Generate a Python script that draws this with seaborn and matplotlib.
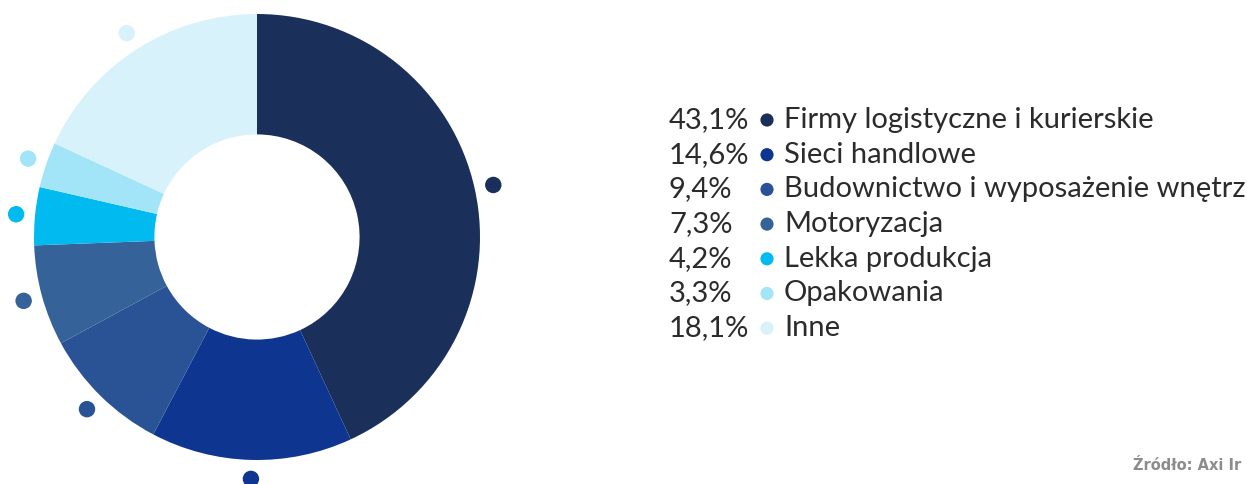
import numpy as np
import pandas as pd
import matplotlib
matplotlib.use("Agg")
import matplotlib.pyplot as plt
import seaborn as sns

categories = ["Firmy logistyczne i kurierskie", "Sieci handlowe",
              "Budownictwo i wyposażenie wnętrz", "Motoryzacja",
              "Lekka produkcja", "Opakowania", "Inne"]
shares = [43.1, 14.6, 9.4, 7.3, 4.2, 3.3, 18.1]
share_labels = ["43,1%", "14,6%", "9,4%", "7,3%", "4,2%", "3,3%", "18,1%"]
colors = ["#1b2f5b", "#0e3590", "#2a5395", "#356298", "#00baf0", "#a3e5f8", "#d8f2fb"]
source = "Źródło: Axi Ir"

sns.set_theme(style="white")
plt.rcParams['font.family'] = ['Lato', 'DejaVu Sans']

W, H = 1247, 484
fig = plt.figure(figsize=(W / 100, H / 100), dpi=100)
fig.patch.set_facecolor("white")

# donut
cx, cy, R = 257, 237, 223
L = 1.16
S = 2 * L * R
ax = fig.add_axes([(cx - S / 2) / W, (H - cy - S / 2) / H, S / W, S / H])
ax.pie(shares, colors=colors, startangle=90, counterclock=False, radius=1,
       wedgeprops=dict(width=0.54, linewidth=0))

cum = np.cumsum([0] + shares[:-1])
mid = 90 - (cum + np.array(shares) / 2) * 3.6
rd = 1.085
dots = pd.DataFrame({"x": rd * np.cos(np.radians(mid)),
                     "y": rd * np.sin(np.radians(mid)),
                     "cat": categories})
sns.scatterplot(data=dots, x="x", y="y", hue="cat", palette=colors, s=140,
                legend=False, ax=ax, clip_on=False, linewidth=0)
ax.set_xlim(-L, L)
ax.set_ylim(-L, L)
ax.set_aspect("equal")
ax.axis("off")

# legend overlay in pixel coordinates
lax = fig.add_axes([0, 0, 1, 1])
lax.patch.set_alpha(0)

y0, dy = 120, 34.7
leg = pd.DataFrame({"x": [767] * len(categories),
                    "y": [y0 + i * dy for i in range(len(categories))],
                    "cat": categories})
sns.scatterplot(data=leg, x="x", y="y", hue="cat", palette=colors, s=90,
                legend=False, ax=lax, clip_on=False, linewidth=0)
lax.set_xlim(0, W)
lax.set_ylim(H, 0)
lax.axis("off")
txt_color = "#2b2b2b"
for i, (p, c) in enumerate(zip(share_labels, categories)):
    y = y0 + i * dy
    lax.text(669, y, p, ha="left", va="center", fontsize=21, color=txt_color)
    lax.text(784, y, c, ha="left", va="center", fontsize=21, color=txt_color)

lax.text(1133, 466, source, ha="left", va="center", fontsize=10.5,
         fontweight="bold", color="#8c8c8c", family="DejaVu Sans")

fig.savefig("out.png", dpi=100, facecolor="white")
